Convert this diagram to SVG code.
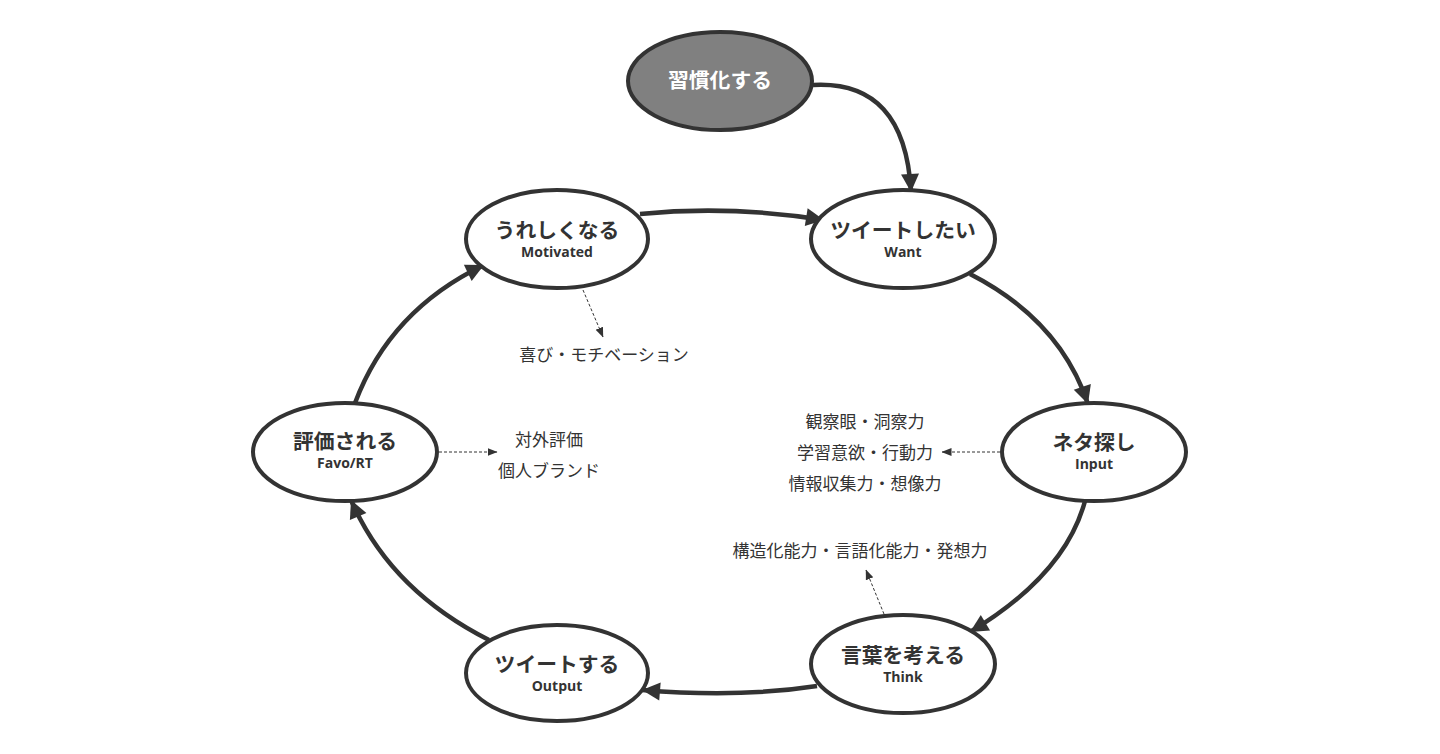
<svg xmlns="http://www.w3.org/2000/svg" width="1440" height="754" viewBox="0 0 1440 754">
<style>
.node ellipse{fill:#fff;stroke:#333;stroke-width:4}
#n0 ellipse{fill:#808080}
.t1{font-family:"Open Sans","Noto Sans CJK JP",sans-serif;font-weight:bold;font-size:20.8px;fill:#333;text-anchor:middle}
.t2{font-family:"Open Sans","Noto Sans CJK JP",sans-serif;font-weight:bold;font-size:14px;fill:#333;text-anchor:middle}
#n0 .t1{fill:#fff}
.ann{font-family:"Noto Sans CJK JP",sans-serif;font-size:17px;fill:#333;text-anchor:middle}
.main{fill:none;stroke:#333;stroke-width:4.5;marker-end:url(#big)}
.dash{fill:none;stroke:#333;stroke-width:1;stroke-dasharray:3,2;marker-end:url(#small)}
</style>
<defs>
<marker id="big" markerUnits="userSpaceOnUse" markerWidth="20" markerHeight="20" viewBox="0 0 20 20" refX="19" refY="10" orient="auto">
<path d="M1,1 L19,10 L1,19 Z" fill="#333"/>
</marker>
<marker id="small" markerUnits="userSpaceOnUse" markerWidth="10" markerHeight="10" viewBox="0 0 10 10" refX="9.5" refY="5" orient="auto">
<path d="M0,1 L10,5 L0,9 Z" fill="#333"/>
</marker>
</defs>
<rect width="1440" height="754" fill="#fff"/>
<g id="connectors">
<path class="main" d="M813,85 Q905,80 911,192"/>
<path class="main" d="M640,214 Q730,205 824,220"/>
<path class="main" d="M970,274 Q1060,320 1088,404"/>
<path class="main" d="M1085,501 Q1065,575 970,632"/>
<path class="main" d="M817,686 Q740,698 642,690"/>
<path class="main" d="M489,640 Q390,590 351,500"/>
<path class="main" d="M355,403 Q390,310 484,265"/>
<path class="dash" d="M583,290 L603,337"/>
<path class="dash" d="M439,452 L497,452"/>
<path class="dash" d="M1000,452 L942,452"/>
<path class="dash" d="M884,614 L866,570"/>
</g>
<g id="n0" class="node"><ellipse cx="720" cy="81" rx="92" ry="49"/><text class="t1" x="720" y="88">習慣化する</text></g>
<g id="n1" class="node"><ellipse cx="557" cy="239" rx="91" ry="49"/><text class="t1" x="557" y="238">うれしくなる</text><text class="t2" x="557" y="257">Motivated</text></g>
<g id="n2" class="node"><ellipse cx="903" cy="239" rx="92" ry="49"/><text class="t1" x="903" y="238">ツイートしたい</text><text class="t2" x="903" y="257">Want</text></g>
<g id="n3" class="node"><ellipse cx="1094" cy="452" rx="92" ry="49"/><text class="t1" x="1094" y="450">ネタ探し</text><text class="t2" x="1094" y="469">Input</text></g>
<g id="n4" class="node"><ellipse cx="903" cy="664" rx="92" ry="49"/><text class="t1" x="903" y="663">言葉を考える</text><text class="t2" x="903" y="682">Think</text></g>
<g id="n5" class="node"><ellipse cx="557" cy="673" rx="91" ry="48"/><text class="t1" x="557" y="672">ツイートする</text><text class="t2" x="557" y="691">Output</text></g>
<g id="n6" class="node"><ellipse cx="345" cy="452" rx="92" ry="49"/><text class="t1" x="345" y="449">評価される</text><text class="t2" x="345" y="468">Favo/RT</text></g>
<g id="annotations">
<text class="ann" x="604" y="361">喜び・モチベーション</text>
<text class="ann" x="549" y="446">対外評価</text>
<text class="ann" x="549" y="477">個人ブランド</text>
<text class="ann" x="865" y="428">観察眼・洞察力</text>
<text class="ann" x="865" y="459">学習意欲・行動力</text>
<text class="ann" x="865" y="490">情報収集力・想像力</text>
<text class="ann" x="860" y="557">構造化能力・言語化能力・発想力</text>
</g>
</svg>
